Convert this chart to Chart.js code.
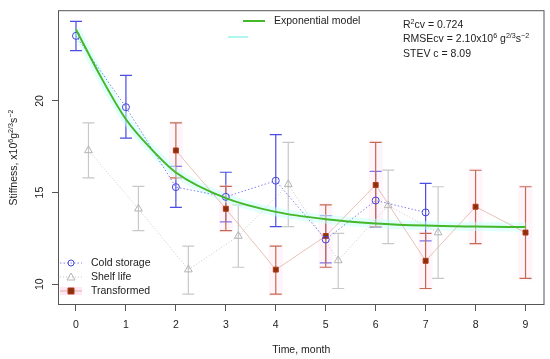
<!DOCTYPE html>
<html>
<head>
<meta charset="utf-8">
<script src="https://cdn.jsdelivr.net/npm/chart.js@4.4.0/dist/chart.umd.min.js"></script>
<style>
html, body { margin: 0; padding: 0; background: #fff; }
</style>
</head>
<body>
<canvas id="chart" width="550" height="359"></canvas>
<script>
// Data
const xTicks = [0, 1, 2, 3, 4, 5, 6, 7, 8, 9];
const yTicks = [10, 15, 20];

const coldX  = [0, 1, 2, 3, 4, 5, 6, 7];
const coldY  = [23.55, 19.66, 15.30, 14.77, 15.65, 12.44, 14.57, 13.92];
const coldLo = [22.74, 17.97, 14.20, 13.40, 13.15, 11.17, 13.10, 12.37];
const coldHi = [24.34, 21.40, 16.43, 16.11, 18.16, 13.75, 16.16, 15.50];

const shelfX  = [0.25, 1.25, 2.25, 3.25, 4.25, 5.25, 6.25, 7.25];
const shelfY  = [17.30, 14.12, 10.80, 12.63, 15.45, 11.30, 14.30, 12.82];
const shelfLo = [15.80, 12.93, 9.46, 10.93, 13.14, 9.77, 12.22, 10.32];
const shelfHi = [18.80, 15.34, 12.08, 14.33, 17.74, 12.78, 16.23, 15.32];

const transX  = [2, 3, 4, 5, 6, 7, 8, 9];
const transY  = [17.30, 14.12, 10.80, 12.63, 15.42, 11.28, 14.23, 12.82];
const transLo = [15.80, 12.93, 9.46, 10.93, 13.14, 9.77, 12.22, 10.32];
const transHi = [18.80, 15.34, 12.08, 14.33, 17.74, 12.78, 16.22, 15.32];

const modelX = [0, 0.5, 1, 1.5, 2, 3, 4, 5, 6, 7, 8, 9];
const modelY = [23.9, 21.3, 19.0, 17.4, 16.1, 14.7, 13.95, 13.55, 13.32, 13.2, 13.15, 13.12];

const FONT = 'Liberation Sans, Arial, Helvetica, sans-serif';

function pts(xs, ys) {
    return xs.map((x, i) => ({x: x, y: ys[i]}));
}

// text with superscripts: parts = [[text, isSup], ...]
function richWidth(ctx, parts, size) {
    let w = 0;
    parts.forEach(p => {
        ctx.font = (p[1] ? size * 0.68 : size) + 'px ' + FONT;
        w += ctx.measureText(p[0]).width;
    });
    return w;
}
function drawRich(ctx, parts, x, y, size) {
    ctx.textBaseline = 'alphabetic';
    ctx.textAlign = 'left';
    parts.forEach(p => {
        ctx.font = (p[1] ? size * 0.68 : size) + 'px ' + FONT;
        ctx.fillText(p[0], x, p[1] ? y - size * 0.42 : y);
        x += ctx.measureText(p[0]).width;
    });
}

const errorBars = {
    id: 'errorBars',
    beforeDatasetsDraw(chart) {
        const ctx = chart.ctx;
        const xs = chart.scales.x, ys = chart.scales.y;
        ctx.save();
        chart.data.datasets.forEach(ds => {
            if (!ds.errLo) return;
            ds.data.forEach((p, i) => {
                const px = xs.getPixelForValue(p.x);
                const lo = ys.getPixelForValue(ds.errLo[i]);
                const hi = ys.getPixelForValue(ds.errHi[i]);
                if (ds.errShade) {
                    ctx.fillStyle = ds.errShade;
                    ctx.fillRect(px - 7, hi - 2, 14, lo - hi + 4);
                }
                ctx.strokeStyle = ds.errColor;
                ctx.lineWidth = 1.2;
                ctx.beginPath();
                ctx.moveTo(px, lo); ctx.lineTo(px, hi);
                ctx.moveTo(px - 6, lo); ctx.lineTo(px + 6, lo);
                ctx.moveTo(px - 6, hi); ctx.lineTo(px + 6, hi);
                ctx.stroke();
            });
        });
        ctx.restore();
    }
};

const frame = {
    id: 'frame',
    afterDraw(chart) {
        const ctx = chart.ctx;
        const a = chart.chartArea;
        const ys = chart.scales.y;
        ctx.save();
        ctx.strokeStyle = '#555';
        ctx.lineWidth = 1;
        ctx.strokeRect(a.left + 0.5, a.top + 0.5, a.right - a.left - 1, a.bottom - a.top - 1);

        // rotated y tick labels
        ctx.fillStyle = '#222';
        ctx.font = '10.5px ' + FONT;
        ctx.textAlign = 'center';
        ctx.textBaseline = 'middle';
        yTicks.forEach(v => {
            ctx.save();
            ctx.translate(40, ys.getPixelForValue(v));
            ctx.rotate(-Math.PI / 2);
            ctx.fillText(String(v), 0, 0);
            ctx.restore();
        });

        // y axis title
        const yTitle = [['Stiffness, x10', false], ['6', true], ['g', false], ['2/3', true], ['s', false], ['\u22122', true]];
        const w = richWidth(ctx, yTitle, 10.5);
        ctx.save();
        ctx.translate(17, (a.top + a.bottom) / 2);
        ctx.rotate(-Math.PI / 2);
        drawRich(ctx, yTitle, -w / 2, 0, 10.5);
        ctx.restore();

        // statistics text
        drawRich(ctx, [['R', false], ['2', true], ['cv = 0.724', false]], 403, 28, 10.5);
        drawRich(ctx, [['RMSEcv = 2.10x10', false], ['6', true], [' g', false], ['2/3', true], ['s', false], ['\u22122', true]], 403, 42, 10.5);
        drawRich(ctx, [['STEV c = 8.09', false]], 403, 57, 10.5);

        // top legend
        const ds = chart.data.datasets;
        ctx.lineWidth = 2;
        ctx.strokeStyle = ds[3].borderColor;
        ctx.beginPath(); ctx.moveTo(243, 21); ctx.lineTo(265, 21); ctx.stroke();
        ctx.strokeStyle = 'rgba(140,245,235,0.7)';
        ctx.beginPath(); ctx.moveTo(228, 37); ctx.lineTo(248, 37); ctx.stroke();
        ctx.fillStyle = '#222';
        ctx.font = '10.5px ' + FONT;
        ctx.textAlign = 'left';
        ctx.textBaseline = 'middle';
        ctx.fillText(ds[3].label, 274, 21);

        // bottom-left legend
        const rows = [263, 277, 291];
        [0, 1, 2].forEach((k, r) => {
            const d = ds[k];
            const y = rows[r];
            if (d.errShade) {
                ctx.fillStyle = 'rgba(255,215,235,0.6)';
                ctx.fillRect(60, y - 4, 22, 8);
            }
            ctx.strokeStyle = d.borderColor;
            ctx.lineWidth = 1;
            ctx.setLineDash(d.borderDash || []);
            ctx.beginPath(); ctx.moveTo(60, y); ctx.lineTo(82, y); ctx.stroke();
            ctx.setLineDash([]);
            ctx.fillStyle = d.pointBackgroundColor;
            ctx.strokeStyle = d.pointBorderColor;
            ctx.lineWidth = 1;
            ctx.beginPath();
            if (d.pointStyle === 'circle') {
                ctx.arc(71, y, 3, 0, Math.PI * 2);
            } else if (d.pointStyle === 'triangle') {
                ctx.moveTo(71, y - 4); ctx.lineTo(75, y + 3); ctx.lineTo(67, y + 3); ctx.closePath();
            } else {
                ctx.rect(71 - 3, y - 3, 6, 6);
            }
            if (d.pointStyle === 'rect') ctx.fill();
            ctx.stroke();
            ctx.fillStyle = '#222';
            ctx.fillText(d.label, 91, y);
        });
        ctx.restore();
    }
};

new Chart(document.getElementById('chart').getContext('2d'), {
    type: 'scatter',
    data: {
        datasets: [{
            label: 'Cold storage',
            data: pts(coldX, coldY),
            errLo: coldLo, errHi: coldHi, errColor: '#4b4be6',
            showLine: true,
            borderColor: '#8080ee',
            borderWidth: 1,
            borderDash: [1.5, 2],
            pointStyle: 'circle',
            pointRadius: 3.5,
            pointBorderWidth: 1,
            pointBorderColor: '#4444e0',
            pointBackgroundColor: 'rgba(0,0,0,0)',
            order: 2
        }, {
            label: 'Shelf life',
            data: pts(shelfX, shelfY),
            errLo: shelfLo, errHi: shelfHi, errColor: '#c8c8c8',
            showLine: true,
            borderColor: '#c8c8c8',
            borderWidth: 1,
            borderDash: [1, 2],
            pointStyle: 'triangle',
            pointRadius: 4.5,
            pointBorderWidth: 1,
            pointBorderColor: '#b4b4b4',
            pointBackgroundColor: 'rgba(0,0,0,0)',
            order: 4
        }, {
            label: 'Transformed',
            data: pts(transX, transY),
            errLo: transLo, errHi: transHi, errColor: '#c46a50',
            errShade: 'rgba(255,220,238,0.3)',
            showLine: true,
            borderColor: '#e2b2a4',
            borderWidth: 0.8,
            pointStyle: 'rect',
            pointRadius: 3.5,
            pointBorderWidth: 1,
            pointBorderColor: '#b03a18',
            pointBackgroundColor: '#8b2e0c',
            order: 3
        }, {
            label: 'Exponential model',
            data: pts(modelX, modelY),
            showLine: true,
            borderColor: '#44b82a',
            borderWidth: 2,
            cubicInterpolationMode: 'monotone',
            pointRadius: 0,
            order: 1
        }, {
            label: 'band',
            data: pts(modelX, modelY),
            showLine: true,
            borderColor: 'rgba(200,255,250,0.5)',
            borderWidth: 9,
            cubicInterpolationMode: 'monotone',
            pointRadius: 0,
            order: 6
        }]
    },
    options: {
        responsive: false,
        animation: false,
        layout: {padding: {left: 0, right: 5, top: 6, bottom: 0}},
        plugins: {legend: {display: false}, tooltip: {enabled: false}},
        scales: {
            x: {
                type: 'linear', min: -0.36, max: 9.38,
                afterBuildTicks: s => { s.ticks = xTicks.map(v => ({value: v})); },
                afterFit: s => { s.height = 54; },
                ticks: {color: '#222', font: {family: FONT, size: 10.5}, padding: 8},
                grid: {drawOnChartArea: false, drawTicks: true, tickLength: 6, color: '#555'},
                border: {display: false},
                title: {display: true, text: 'Time, month', color: '#222',
                        font: {family: FONT, size: 10.5}, padding: {top: 0, bottom: 3}}
            },
            y: {
                type: 'linear', min: 8.87, max: 24.95,
                afterBuildTicks: s => { s.ticks = yTicks.map(v => ({value: v})); },
                afterFit: s => { s.width = 58; },
                ticks: {callback: () => ''},
                grid: {drawOnChartArea: false, drawTicks: true, tickLength: 6, color: '#555'},
                border: {display: false}
            }
        }
    },
    plugins: [errorBars, frame]
});
</script>
</body>
</html>
